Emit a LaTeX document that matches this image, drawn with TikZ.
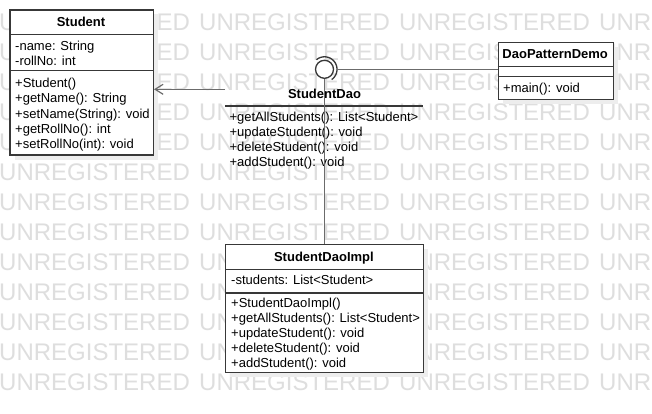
\documentclass[tikz,border=0pt]{standalone}
\usepackage{fontspec}
\setmainfont{Liberation Sans}
\usetikzlibrary{arrows.meta}
\begin{document}
\begin{tikzpicture}[x=1pt,y=-1pt,
  wm/.style={anchor=base west, inner sep=0pt, text=black!13, font=\fontsize{24}{24}\selectfont},
  umlbox/.style={draw=black!78, line width=1.3pt, fill=white, anchor=north west, inner sep=0pt},
  shadowbox/.style={fill=black!7, draw=none, anchor=north west, inner sep=0pt},
  sep/.style={draw=black!78, line width=1.3pt},
  txt/.style={anchor=base west, inner sep=0pt, font=\fontsize{13}{15}\selectfont},
  ttl/.style={anchor=base, inner sep=0pt, font=\fontsize{13}{15}\selectfont\bfseries},
  conn/.style={draw=black!58, line width=1.4pt}
]
\useasboundingbox (0,0) rectangle (652,414);
\fill[white] (0,0) rectangle (652,414);
% watermark
\begin{scope}
\clip (0,0) rectangle (652,414);
\foreach \k in {0,...,12}{
  \foreach \j in {0,...,3}{
    \node[wm] (wm-\k-\j) at ({-1+200*\j},{30.2+30*\k}) {UNREGISTERED};
  }
}
\end{scope}

% ---------- Student ----------
\node[shadowbox, minimum width=143.4pt, minimum height=145.2pt] (studentsh) at (14.3,14.3) {};
\node[umlbox, minimum width=143.4pt, minimum height=145.2pt] (student) at (9.3,9.3) {};
\draw[sep] (student.west |- 0,34.3) -- (student.east |- 0,34.3);
\draw[sep] (student.west |- 0,70.5) -- (student.east |- 0,70.5);
\node[ttl] (st-t) at (81,26.5) {Student};
\node[txt] (st-a1) at (15,50.2) {-name: String};
\node[txt] (st-a2) at (15,65.5) {-rollNo: int};
\node[txt] (st-m1) at (15,87.8) {+Student()};
\node[txt] (st-m2) at (15,103.0) {+getName(): String};
\node[txt] (st-m3) at (15,118.2) {+setName(String): void};
\node[txt] (st-m4) at (15,133.4) {+getRollNo(): int};
\node[txt] (st-m5) at (15,148.6) {+setRollNo(int): void};

% ---------- DaoPatternDemo ----------
\node[shadowbox, minimum width=115pt, minimum height=57.3pt] (demosh) at (502.7,46.7) {};
\node[umlbox, minimum width=115pt, minimum height=57.3pt] (demo) at (497.7,41.7) {};
\draw[sep] (demo.west |- 0,66.7) -- (demo.east |- 0,66.7);
\draw[sep] (demo.west |- 0,76.7) -- (demo.east |- 0,76.7);
\node[ttl] (dm-t) at (555.2,58.8) {DaoPatternDemo};
\node[txt] (dm-m1) at (503,92.2) {+main(): void};

% ---------- StudentDaoImpl ----------
\node[shadowbox, minimum width=197.7pt, minimum height=128pt] (implsh) at (230,249) {};
\node[umlbox, minimum width=197.7pt, minimum height=128pt] (impl) at (225,244) {};
\draw[sep] (impl.west |- 0,269.5) -- (impl.east |- 0,269.5);
\draw[sep] (impl.west |- 0,293) -- (impl.east |- 0,293);
\node[ttl] (im-t) at (323.9,261.2) {StudentDaoImpl};
\node[txt] (im-a1) at (231,284.5) {-students: List<Student>};
\node[txt] (im-m1) at (231,307.8) {+StudentDaoImpl()};
\node[txt] (im-m2) at (231,322.8) {+getAllStudents(): List<Student>};
\node[txt] (im-m3) at (231,337.8) {+updateStudent(): void};
\node[txt] (im-m4) at (231,352.4) {+deleteStudent(): void};
\node[txt] (im-m5) at (231,367.0) {+addStudent(): void};

% ---------- StudentDao (lollipop interface) ----------
\node[ttl] (dao-t) at (324.5,98.8) {StudentDao};
\coordinate (daoL) at (225,89.3);
\coordinate (daoR) at (422.7,106);
\draw[sep] (daoL |- daoR) -- (daoR);
\node[txt] (dao-m1) at (229.3,121.2) {+getAllStudents(): List<Student>};
\node[txt] (dao-m2) at (229.3,136.2) {+updateStudent(): void};
\node[txt] (dao-m3) at (229.3,151.2) {+deleteStudent(): void};
\node[txt] (dao-m4) at (229.3,166.2) {+addStudent(): void};

% vertical realization line
\node[circle, minimum size=18pt, inner sep=0pt] (ball) at (324.5,69.3) {};
\draw[conn] (ball.south) -- (impl.north -| ball.south);
\node[circle, draw=black!78, line width=1.3pt, fill=white, minimum size=18pt, inner sep=0pt] (ballv) at (324.5,69.3) {};
% socket
\draw[draw=black!78, line width=1.3pt] plot[domain=-130:55, samples=40] ({324.5+12.5*cos(\x)},{69.3+12.5*sin(\x)});
\coordinate (sock) at (337,69.3);
\draw[conn] (sock) -- (demo.west |- sock);

% association to Student
\draw[conn, -{Straight Barb[length=8pt, width=10pt, line width=1.2pt]}] (daoL) -- (student.east |- daoL);
\end{tikzpicture}
\end{document}
